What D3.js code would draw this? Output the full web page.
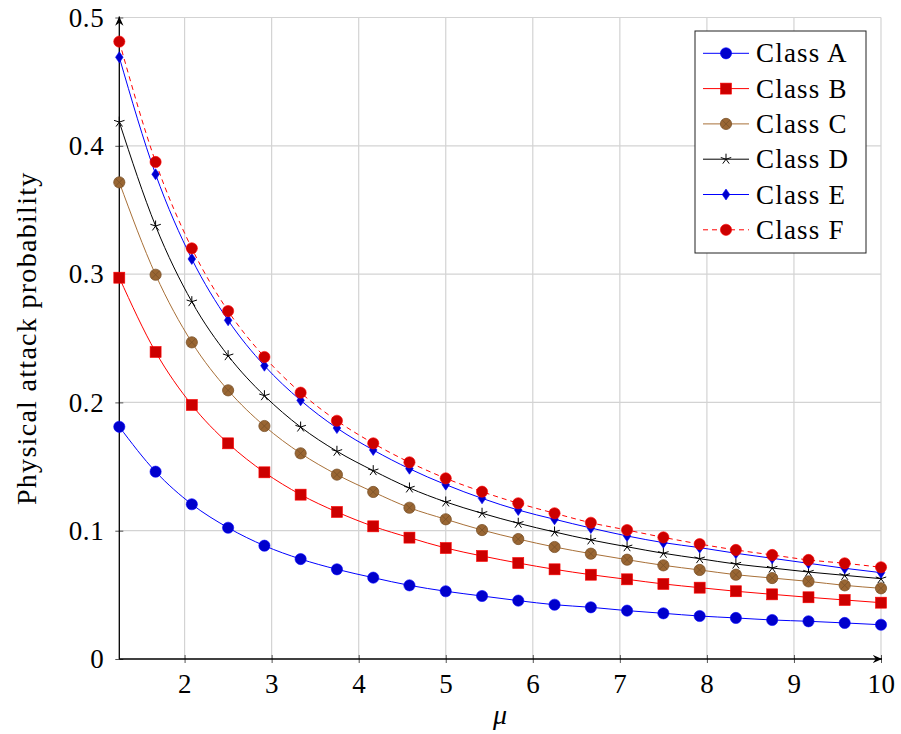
<!DOCTYPE html>
<html>
<head>
<meta charset="utf-8">
<script src="https://cdn.jsdelivr.net/npm/d3@7"></script>
<style>
  body { margin: 0; background: #fff; }
  text { font-family: "Liberation Serif", "DejaVu Serif", serif; fill: #000; }
</style>
</head>
<body>
<div id="chart"></div>
<script>
// mu values: 22 points from 1.25 to 10
let mu = [1.25, 1.667, 2.083, 2.5, 2.917, 3.333, 3.75, 4.167, 4.583, 5, 5.417,
          5.833, 6.25, 6.667, 7.083, 7.5, 7.917, 8.333, 8.75, 9.167, 9.583, 10];

let classA = [0.181, 0.146, 0.1206, 0.1023, 0.0883, 0.0779, 0.0699, 0.0634, 0.0574, 0.0528, 0.0491,
              0.0455, 0.0423, 0.0403, 0.0377, 0.0356, 0.0335, 0.032, 0.0304, 0.0294, 0.0281, 0.0267];
let classB = [0.2972, 0.2393, 0.198, 0.1681, 0.1455, 0.1281, 0.1146, 0.1034, 0.0946, 0.0865, 0.0803,
              0.0748, 0.0699, 0.0657, 0.0621, 0.0585, 0.0556, 0.0528, 0.0504, 0.0481, 0.046, 0.0439];
let classC = [0.3715, 0.2995, 0.2468, 0.2094, 0.1816, 0.1603, 0.1437, 0.1302, 0.1179, 0.1089, 0.1005,
              0.0935, 0.0873, 0.0821, 0.0774, 0.073, 0.0694, 0.0657, 0.0631, 0.0605, 0.0574, 0.0551];
let classD = [0.4185, 0.3375, 0.2785, 0.2364, 0.2052, 0.1808, 0.1619, 0.1468, 0.1333, 0.1224, 0.1136,
              0.1058, 0.099, 0.0928, 0.0875, 0.0824, 0.0782, 0.074, 0.0709, 0.0678, 0.0652, 0.0626];
let classE = [0.469, 0.3778, 0.3118, 0.264, 0.2286, 0.2016, 0.18, 0.1629, 0.1483, 0.1359, 0.1252,
              0.1161, 0.1089, 0.1021, 0.0959, 0.0907, 0.0868, 0.0824, 0.0785, 0.0746, 0.0707, 0.0673];
let classF = [0.4812, 0.3874, 0.3201, 0.2712, 0.2354, 0.2076, 0.1857, 0.1681, 0.1533, 0.1408, 0.1304,
              0.1214, 0.1136, 0.1062, 0.1005, 0.0948, 0.0896, 0.085, 0.0811, 0.0772, 0.0746, 0.0715];

let xTicks = [2, 3, 4, 5, 6, 7, 8, 9, 10];
let yTicks = [0, 0.1, 0.2, 0.3, 0.4, 0.5];

// pgfplots-ish styles: line colour, mark fill (80% of colour), mark kind
let series = [
  {name: "Class A", values: classA, line: "#0000ff", fill: "#0000cc", mark: "circle"},
  {name: "Class B", values: classB, line: "#ff0000", fill: "#cc0000", mark: "square"},
  {name: "Class C", values: classC, line: "#a87038", fill: "#996633", mark: "otimes"},
  {name: "Class D", values: classD, line: "#000000", fill: "#000000", mark: "star"},
  {name: "Class E", values: classE, line: "#0000ff", fill: "#0000cc", mark: "diamond"},
  {name: "Class F", values: classF, line: "#ff0000", fill: "#cc0000", mark: "circle", dash: "5,4"}
];

let width = 901, height = 734;
let x = d3.scaleLinear().domain([1.25, 10]).range([119.3, 881]);
let y = d3.scaleLinear().domain([0, 0.5]).range([659, 17.5]);

let svg = d3.select("#chart").append("svg")
    .attr("width", width)
    .attr("height", height);

// grid
let grid = svg.append("g").attr("stroke", "#d3d3d3").attr("stroke-width", 1.2);
grid.selectAll(".gx").data(xTicks).join("line")
    .attr("x1", d => x(d)).attr("x2", d => x(d))
    .attr("y1", y(0)).attr("y2", y(0.5));
grid.selectAll(".gy").data(yTicks.slice(1)).join("line")
    .attr("x1", x(1.25)).attr("x2", x(10))
    .attr("y1", d => y(d)).attr("y2", d => y(d));

// axes via d3 axis, then restyle
let xAxis = svg.append("g")
    .attr("transform", `translate(0,${y(0)})`)
    .call(d3.axisBottom(x).tickValues(xTicks).tickSize(4).tickPadding(11).tickFormat(d3.format("d")));
let yAxis = svg.append("g")
    .attr("transform", `translate(${x(1.25)},0)`)
    .call(d3.axisLeft(y).tickValues(yTicks).tickSize(4).tickPadding(11)
      .tickFormat(d => d === 0 ? "0" : d3.format(".1f")(d)));

[xAxis, yAxis].forEach(g => {
  g.select(".domain").remove();
  g.selectAll(".tick line").attr("stroke", "#555").attr("stroke-width", 1);
  g.selectAll(".tick text").style("font-size", "27px").style("letter-spacing", "0.6px").attr("fill", "#000");
});
xAxis.selectAll(".tick line").attr("y1", -4);
yAxis.selectAll(".tick line").attr("x1", 4);

let defs = svg.append("defs");
defs.append("marker")
    .attr("id", "arrow")
    .attr("viewBox", "0 0 10 10")
    .attr("refX", 9).attr("refY", 5)
    .attr("markerWidth", 8).attr("markerHeight", 8)
    .attr("orient", "auto")
  .append("path")
    .attr("d", "M0,1 L9,5 L0,9 L3,5 Z")
    .attr("fill", "#000");

svg.append("line")
    .attr("x1", x(1.25)).attr("x2", x(10) + 1)
    .attr("y1", y(0)).attr("y2", y(0))
    .attr("stroke", "#000").attr("stroke-width", 1.3)
    .attr("marker-end", "url(#arrow)");
svg.append("line")
    .attr("x1", x(1.25)).attr("x2", x(1.25))
    .attr("y1", y(0)).attr("y2", y(0.5) - 1)
    .attr("stroke", "#000").attr("stroke-width", 1.3)
    .attr("marker-end", "url(#arrow)");

// axis labels
svg.append("text")
    .attr("x", 500).attr("y", 724)
    .attr("text-anchor", "middle")
    .style("font-size", "28px").style("font-style", "italic")
    .text("μ");
svg.append("text")
    .attr("transform", `translate(36,${(y(0) + y(0.5)) / 2}) rotate(-90)`)
    .attr("text-anchor", "middle")
    .style("font-size", "28px")
    .style("letter-spacing", "1.3px")
    .text("Physical attack probability");

function drawMark(g, s) {
  if (s.mark === "circle") {
    g.append("circle").attr("r", 5.6).attr("fill", s.fill).attr("stroke", s.line).attr("stroke-width", 0.6);
  } else if (s.mark === "square") {
    g.append("rect").attr("x", -5.5).attr("y", -5.5).attr("width", 11).attr("height", 11)
      .attr("fill", s.fill).attr("stroke", s.line).attr("stroke-width", 0.6);
  } else if (s.mark === "otimes") {
    g.append("circle").attr("r", 5.6).attr("fill", s.fill).attr("stroke", "#7a5229").attr("stroke-width", 0.8);
    let k = 5.6 * Math.SQRT1_2;
    g.append("path").attr("d", `M${-k},${-k}L${k},${k}M${-k},${k}L${k},${-k}`)
      .attr("stroke", "#7a5229").attr("stroke-width", 0.8);
  } else if (s.mark === "diamond") {
    g.append("path").attr("d", "M0,-5.5L3.8,0L0,5.5L-3.8,0Z")
      .attr("fill", s.fill).attr("stroke", s.line).attr("stroke-width", 0.6);
  } else if (s.mark === "star") {
    let r = 5.5, d = "";
    for (let k = 0; k < 5; k++) {
      let a = -Math.PI / 2 + k * 2 * Math.PI / 5;
      d += `M0,0L${r * Math.cos(a)},${r * Math.sin(a)}`;
    }
    g.append("path").attr("d", d).attr("stroke", "#000").attr("stroke-width", 1).attr("fill", "none");
  }
}

let line = d3.line()
    .x((d, i) => x(mu[i]))
    .y(d => y(d))
    .curve(d3.curveMonotoneX);

series.forEach(s => {
  svg.append("path")
      .datum(s.values)
      .attr("fill", "none")
      .attr("stroke", s.line)
      .attr("stroke-width", 1)
      .attr("stroke-dasharray", s.dash || null)
      .attr("d", line);
  s.values.forEach((v, i) => {
    let g = svg.append("g").attr("transform", `translate(${x(mu[i])},${y(v)})`);
    drawMark(g, s);
  });
});

// legend
let legend = svg.append("g").attr("transform", "translate(695,31)");
legend.append("rect")
    .attr("width", 171).attr("height", 222)
    .attr("fill", "#fff").attr("stroke", "#222").attr("stroke-width", 1);
series.forEach((s, i) => {
  let row = legend.append("g").attr("transform", `translate(0,${22.3 + i * 35.3})`);
  row.append("line")
      .attr("x1", 8).attr("x2", 54)
      .attr("stroke", s.line).attr("stroke-width", 1)
      .attr("stroke-dasharray", s.dash || null);
  drawMark(row.append("g").attr("transform", "translate(31,0)"), s);
  row.append("text")
      .attr("x", 61).attr("y", 9)
      .style("font-size", "27px")
      .style("letter-spacing", "1.2px")
      .text(s.name);
});
</script>
</body>
</html>
